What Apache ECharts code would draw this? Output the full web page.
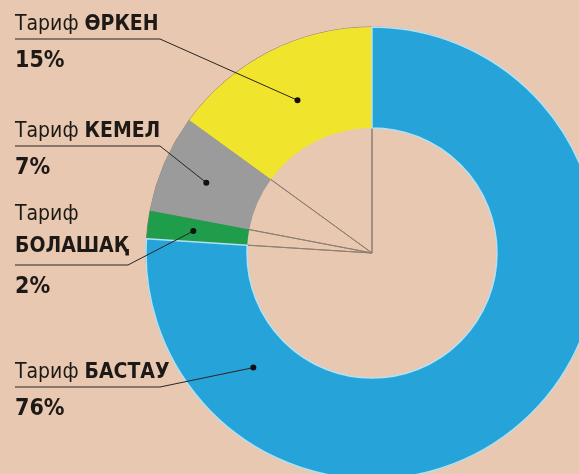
<!DOCTYPE html>
<html><head><meta charset="utf-8">
<script src="https://cdn.jsdelivr.net/npm/echarts@6/dist/echarts.min.js"></script>
<style>html,body{margin:0;padding:0;background:#e8c8b0;}#c{width:579px;height:474px;}</style>
</head><body><div id="c"></div>
<script>
// ---- data ----
const prefix = 'Тариф';
const categories = ['ӨРКЕН', 'КЕМЕЛ', 'БОЛАШАҚ', 'БАСТАУ'];
const shares = [15, 7, 2, 76];
const pctLabels = ['15%', '7%', '2%', '76%'];
const colors = ['#f1e42c', '#9c9b9b', '#1f9d4a', '#26a4da'];

// ---- layout ----
const CX = 372, CY = 253, R_IN = 125, R_OUT = 226;
const labelTop = [11, 118, 201, 359];
const labelX = 15;
const elbowX = [160, 160, 128, 160];
const anchorAngle = [116, 157, 173, 224];
const anchorR = [170, 180, 180, 165];
const FONT = "'DejaVu Sans Condensed','Liberation Sans Narrow',sans-serif";

function anchor(i) {
  const a = anchorAngle[i] * Math.PI / 180;
  return [CX + anchorR[i] * Math.cos(a), CY - anchorR[i] * Math.sin(a)];
}
function underlineY(i) { return labelTop[i] + (i === 2 ? 64 : 28); }

const chart = echarts.init(document.getElementById('c'));

chart.setOption({
  backgroundColor: '#e8c8b0',
  animation: false,
  series: [
    {
      // radial guide lines from the centre
      type: 'pie', silent: true, z: 1,
      center: [CX, CY], radius: [0, R_OUT],
      startAngle: 90, clockwise: false,
      label: { show: false }, labelLine: { show: false },
      itemStyle: { color: 'rgba(0,0,0,0)', borderColor: '#8e7f72', borderWidth: 1 },
      data: categories.map((c, i) => ({ name: c, value: shares[i] }))
    },
    {
      // the donut
      type: 'pie', silent: true, z: 2,
      center: [CX, CY], radius: [R_IN, R_OUT],
      startAngle: 90, clockwise: false,
      label: { show: false }, labelLine: { show: false },
      data: categories.map((c, i) => ({
        name: c, value: shares[i],
        itemStyle: i === 3 ? { color: colors[i], borderColor: '#b3e1f1', borderWidth: 1.5 }
                           : { color: colors[i], borderWidth: 0 }
      }))
    },
    {
      // labels + leader lines drawn on top
      type: 'pie', silent: true, z: 3,
      center: [CX, CY], radius: [R_IN, R_OUT],
      startAngle: 90, clockwise: false,
      avoidLabelOverlap: false,
      itemStyle: { color: 'rgba(0,0,0,0)', borderWidth: 0 },
      label: {
        show: true, position: 'outside',
        formatter: p => {
          const i = p.dataIndex;
          if (i === 2) return `{r|${prefix}}\n{b2|${categories[i]}}\n{p|${pctLabels[i]}}`;
          return `{r|${prefix} }{b|${categories[i]}}\n{p|${pctLabels[i]}}`;
        },
        rich: {
          r: { fontFamily: FONT, fontSize: 21, color: '#1d1916', lineHeight: 28 },
          b: { fontFamily: FONT, fontSize: 21, fontWeight: 'bold', color: '#1d1916', lineHeight: 28 },
          b2: { fontFamily: FONT, fontSize: 21, fontWeight: 'bold', color: '#1d1916', lineHeight: 36 },
          p: { fontFamily: FONT, fontSize: 23, fontWeight: 'bold', color: '#1d1916', lineHeight: 44 }
        }
      },
      labelLine: { show: true, lineStyle: { color: '#2a2420', width: 1 } },
      labelLayout: params => {
        const i = params.dataIndex;
        const uy = underlineY(i);
        return {
          x: labelX, y: labelTop[i], align: 'left', verticalAlign: 'top',
          labelLinePoints: [anchor(i), [elbowX[i], uy], [labelX, uy]]
        };
      },
      data: categories.map((c, i) => ({ name: c, value: shares[i] }))
    }
  ],
  graphic: categories.map((c, i) => {
    const p = anchor(i);
    return { type: 'circle', z: 100, shape: { cx: p[0], cy: p[1], r: 3 }, style: { fill: '#111' } };
  })
});
</script></body></html>
